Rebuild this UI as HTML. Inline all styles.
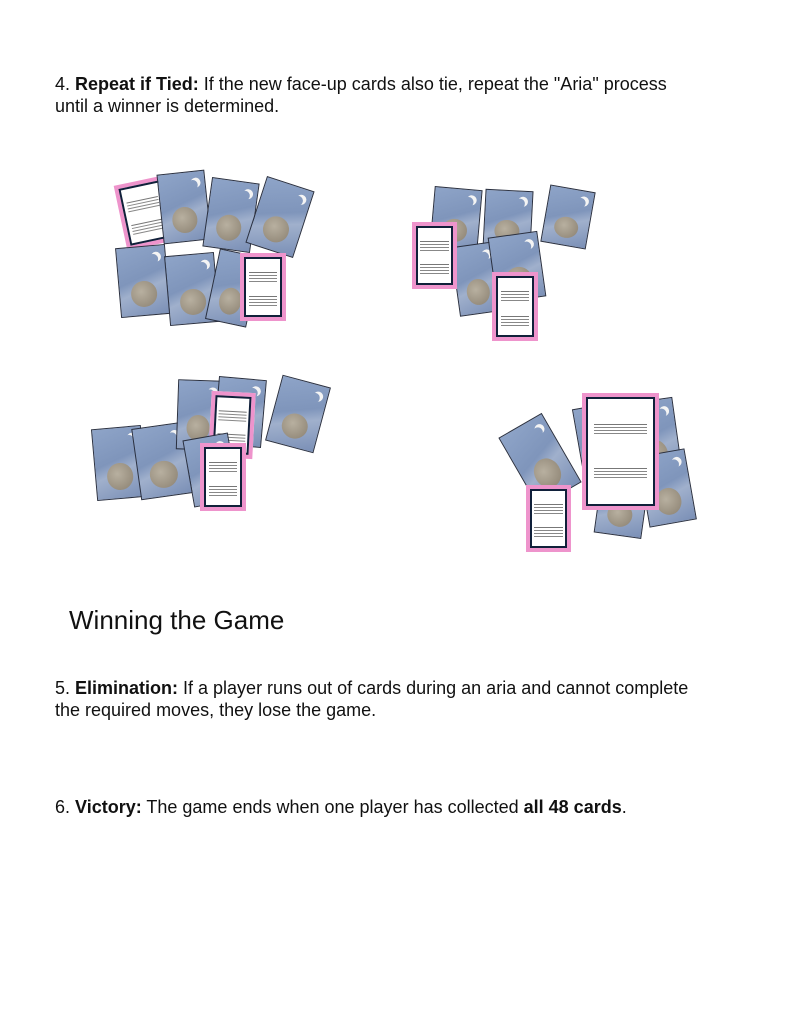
<!DOCTYPE html>
<html><head><meta charset="utf-8"><style>
body{margin:0;width:791px;height:1023px;background:#fff;position:relative;overflow:hidden;font-family:"Liberation Sans",Arial,sans-serif;color:#111}
p{position:absolute;margin:0;font-size:18px;line-height:22px}
.c{position:absolute;box-sizing:border-box;border:1px solid #2a3040;background:linear-gradient(160deg,#8ea4c8 0%,#7f95bb 45%,#a0b0cc 60%,#7a8fb6 100%);overflow:hidden}
.c::before{content:"";position:absolute;left:22%;top:50%;width:55%;height:38%;border-radius:50%;background:radial-gradient(circle at 40% 40%,#b8b0a0,#8a8070);}
.c::after{content:"";position:absolute;right:15%;top:12%;width:10px;height:10px;border-radius:50%;box-shadow:3px -2px 0 0 #f4f4f4;}
.p{position:absolute;box-sizing:border-box;background:#fff;border:4px solid #ee94cc;}
.p::before{content:"";position:absolute;inset:0;border:2px solid #10203a;}
.p i{position:absolute;left:12%;right:12%;height:1px;background:#777;box-shadow:0 3px 0 #888,0 6px 0 #888,0 9px 0 #888}
</style></head><body>
<p style="left:55px;top:73px">4. <b>Repeat if Tied:</b> If the new face-up cards also tie, repeat the "Aria" process<br>until a winner is determined.</p>

<!-- group 1 -->
<div class="p" style="left:120px;top:180px;width:50px;height:66px;transform:rotate(-12deg)"><i style="top:25%"></i><i style="top:65%"></i></div>
<div class="c" style="left:160px;top:172px;width:48px;height:70px;transform:rotate(-6deg)"></div>
<div class="c" style="left:207px;top:180px;width:48px;height:70px;transform:rotate(8deg)"></div>
<div class="c" style="left:255px;top:182px;width:50px;height:70px;transform:rotate(18deg)"></div>
<div class="c" style="left:118px;top:246px;width:50px;height:70px;transform:rotate(-5deg)"></div>
<div class="c" style="left:167px;top:254px;width:50px;height:70px;transform:rotate(-5deg)"></div>
<div class="c" style="left:212px;top:252px;width:42px;height:72px;transform:rotate(12deg)"></div>
<div class="p" style="left:240px;top:253px;width:46px;height:68px"><i style="top:25%"></i><i style="top:65%"></i></div>

<!-- group 2 -->
<div class="c" style="left:432px;top:188px;width:48px;height:62px;transform:rotate(5deg)"></div>
<div class="c" style="left:484px;top:190px;width:48px;height:60px;transform:rotate(3deg)"></div>
<div class="c" style="left:545px;top:188px;width:46px;height:58px;transform:rotate(10deg)"></div>
<div class="c" style="left:455px;top:244px;width:44px;height:70px;transform:rotate(-8deg)"></div>
<div class="c" style="left:492px;top:234px;width:50px;height:66px;transform:rotate(-8deg)"></div>
<div class="p" style="left:412px;top:222px;width:45px;height:67px"><i style="top:25%"></i><i style="top:65%"></i></div>
<div class="p" style="left:492px;top:272px;width:46px;height:69px"><i style="top:25%"></i><i style="top:65%"></i></div>

<!-- group 3 -->
<div class="c" style="left:94px;top:427px;width:50px;height:72px;transform:rotate(-5deg)"></div>
<div class="c" style="left:136px;top:425px;width:52px;height:72px;transform:rotate(-8deg)"></div>
<div class="c" style="left:177px;top:380px;width:44px;height:70px;transform:rotate(2deg)"></div>
<div class="c" style="left:216px;top:378px;width:48px;height:68px;transform:rotate(5deg)"></div>
<div class="c" style="left:273px;top:380px;width:50px;height:68px;transform:rotate(15deg)"></div>
<div class="p" style="left:210px;top:392px;width:44px;height:66px;transform:rotate(3deg)"><i style="top:25%"></i><i style="top:65%"></i></div>
<div class="c" style="left:188px;top:436px;width:46px;height:68px;transform:rotate(-10deg)"></div>
<div class="p" style="left:200px;top:443px;width:46px;height:68px"><i style="top:25%"></i><i style="top:65%"></i></div>

<!-- group 4 -->
<div class="c" style="left:515px;top:420px;width:50px;height:80px;transform:rotate(-30deg)"></div>
<div class="c" style="left:578px;top:405px;width:44px;height:74px;transform:rotate(-10deg)"></div>
<div class="c" style="left:628px;top:400px;width:50px;height:80px;transform:rotate(-8deg)"></div>
<div class="c" style="left:643px;top:452px;width:48px;height:72px;transform:rotate(-10deg)"></div>
<div class="c" style="left:598px;top:470px;width:48px;height:66px;transform:rotate(8deg)"></div>
<div class="p" style="left:582px;top:393px;width:77px;height:117px"><i style="top:25%"></i><i style="top:65%"></i></div>
<div class="p" style="left:526px;top:485px;width:45px;height:67px"><i style="top:25%"></i><i style="top:65%"></i></div>

<div style="position:absolute;left:69px;top:604px;font-size:26px;line-height:32px">Winning the Game</div>
<p style="left:55px;top:677px">5. <b>Elimination:</b> If a player runs out of cards during an aria and cannot complete<br>the required moves, they lose the game.</p>
<p style="left:55px;top:796px">6. <b>Victory:</b> The game ends when one player has collected <b>all 48 cards</b>.</p>
</body></html>
